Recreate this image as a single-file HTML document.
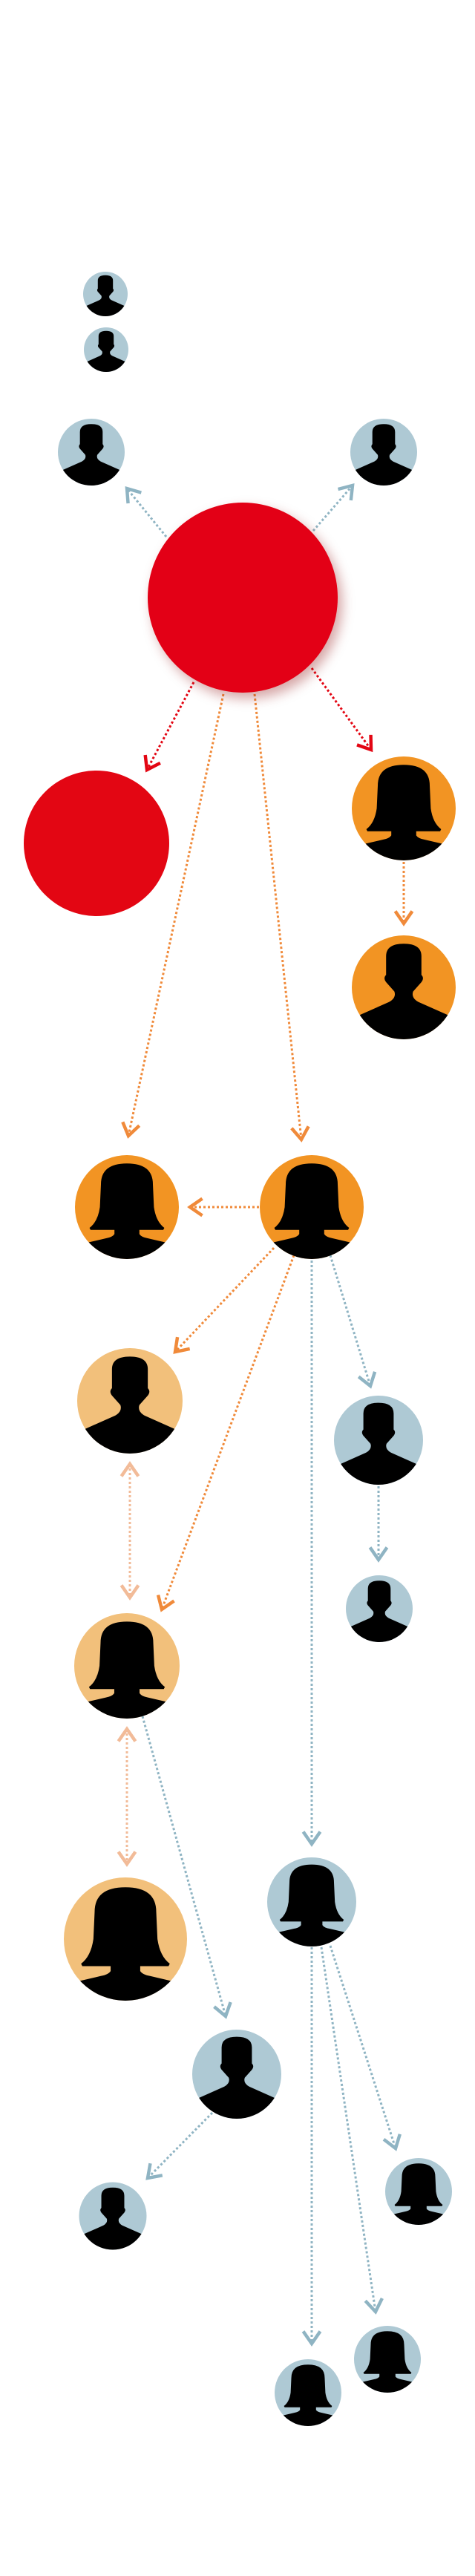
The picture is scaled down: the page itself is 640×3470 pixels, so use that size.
<!DOCTYPE html>
<html><head><meta charset="utf-8"><style>html,body{margin:0;padding:0;background:#fff}svg{display:block}</style></head>
<body>
<svg width="640" height="3470" viewBox="0 0 640 3470" xmlns="http://www.w3.org/2000/svg">
<defs>
<clipPath id="cc" clipPathUnits="userSpaceOnUse"><circle cx="0" cy="0" r="50"/></clipPath>
<filter id="sh" x="-30%" y="-30%" width="160%" height="160%"><feDropShadow dx="6" dy="8" stdDeviation="8" flood-color="#800" flood-opacity="0.35"/></filter>
<marker id="ab" markerUnits="userSpaceOnUse" markerWidth="28" markerHeight="28" refX="15" refY="11" orient="auto-start-reverse" viewBox="0 0 22 22"><path d="M2,2 L15,11 L2,20" fill="none" stroke="#8fb4c3" stroke-width="3.5"/></marker>
<marker id="ao" markerUnits="userSpaceOnUse" markerWidth="28" markerHeight="28" refX="15" refY="11" orient="auto-start-reverse" viewBox="0 0 22 22"><path d="M2,2 L15,11 L2,20" fill="none" stroke="#f08a3a" stroke-width="3.5"/></marker>
<marker id="al" markerUnits="userSpaceOnUse" markerWidth="28" markerHeight="28" refX="15" refY="11" orient="auto-start-reverse" viewBox="0 0 22 22"><path d="M2,2 L15,11 L2,20" fill="none" stroke="#f2bb98" stroke-width="3.5"/></marker>
<marker id="ar" markerUnits="userSpaceOnUse" markerWidth="28" markerHeight="28" refX="15" refY="11" orient="auto-start-reverse" viewBox="0 0 22 22"><path d="M2,2 L15,11 L2,20" fill="none" stroke="#e30613" stroke-width="3.5"/></marker>
<g id="M"><path clip-path="url(#cc)" fill="#000" d="M-17,-30 Q-17,-42 0,-42 Q17,-42 17,-30 L17,-12 Q20,-9 17,-5 L9,4 Q7,10 14,14 L50,30 L50,60 L-50,60 L-50,30 L-14,14 Q-7,10 -9,4 L-17,-5 Q-20,-9 -17,-12 Z"/></g>
<g id="F"><path clip-path="url(#cc)" fill="#000" d="M-25,-22 Q-25,-42 0,-42 Q25,-42 25,-22 L26,0 Q28,14 36,20 L35,22 L12,22 L12,26 Q14,29 20,30 L50,37 L50,60 L-50,60 L-50,37 L-20,30 Q-14,29 -12,26 L-12,22 L-35,22 L-36,20 Q-28,14 -26,0 Z"/></g>
</defs>
<g fill="none" stroke-width="3" stroke-dasharray="3 3">
<line x1="224" y1="723" x2="171" y2="658" stroke="#8fb4c3" marker-end="url(#ab)"/>
<line x1="422" y1="715" x2="475" y2="654" stroke="#8fb4c3" marker-end="url(#ab)"/>
<line x1="261" y1="919" x2="198" y2="1037" stroke="#e30613" marker-end="url(#ar)"/>
<line x1="420" y1="900" x2="500" y2="1010" stroke="#e30613" marker-end="url(#ar)"/>
<line x1="301" y1="935" x2="173" y2="1530" stroke="#f08a3a" marker-end="url(#ao)"/>
<line x1="343" y1="935" x2="406" y2="1535" stroke="#f08a3a" marker-end="url(#ao)"/>
<line x1="544" y1="1161" x2="544" y2="1244" stroke="#f08a3a" marker-end="url(#ao)"/>
<line x1="349" y1="1626" x2="256" y2="1626" stroke="#f08a3a" marker-end="url(#ao)"/>
<line x1="369" y1="1681" x2="236" y2="1821" stroke="#f08a3a" marker-end="url(#ao)"/>
<line x1="396" y1="1691" x2="218" y2="2168" stroke="#f08a3a" marker-end="url(#ao)"/>
<line x1="420" y1="1698" x2="420" y2="2484" stroke="#8fb4c3" marker-end="url(#ab)"/>
<line x1="445" y1="1691" x2="499" y2="1867" stroke="#8fb4c3" marker-end="url(#ab)"/>
<line x1="510" y1="2002" x2="510" y2="2101" stroke="#8fb4c3" marker-end="url(#ab)"/>
<line x1="175" y1="1972" x2="175" y2="2152" stroke="#f2bb98" marker-start="url(#al)" marker-end="url(#al)"/>
<line x1="171" y1="2329" x2="171" y2="2511" stroke="#f2bb98" marker-start="url(#al)" marker-end="url(#al)"/>
<line x1="192" y1="2312" x2="304" y2="2716" stroke="#8fb4c3" marker-end="url(#ab)"/>
<line x1="286" y1="2846" x2="199" y2="2934" stroke="#8fb4c3" marker-end="url(#ab)"/>
<line x1="445" y1="2621" x2="533" y2="2894" stroke="#8fb4c3" marker-end="url(#ab)"/>
<line x1="433" y1="2623" x2="506" y2="3114" stroke="#8fb4c3" marker-end="url(#ab)"/>
<line x1="420" y1="2623" x2="420" y2="3157" stroke="#8fb4c3" marker-end="url(#ab)"/>
</g>
<circle cx="327" cy="805" r="128" fill="#e30613" filter="url(#sh)"/>
<circle cx="130" cy="1136" r="98" fill="#e30613"/>
<g transform="translate(142,396) scale(0.6)"><circle r="50" fill="#aec9d4"/><use href="#M"/></g>
<g transform="translate(143,471) scale(0.6)"><circle r="50" fill="#aec9d4"/><use href="#M"/></g>
<g transform="translate(123,609) scale(0.9)"><circle r="50" fill="#aec9d4"/><use href="#M"/></g>
<g transform="translate(517,609) scale(0.9)"><circle r="50" fill="#aec9d4"/><use href="#M"/></g>
<g transform="translate(544,1089) scale(1.4)"><circle r="50" fill="#f29423"/><use href="#F"/></g>
<g transform="translate(544,1330) scale(1.4)"><circle r="50" fill="#f29423"/><use href="#M"/></g>
<g transform="translate(171,1626) scale(1.4)"><circle r="50" fill="#f29423"/><use href="#F"/></g>
<g transform="translate(420,1626) scale(1.4)"><circle r="50" fill="#f29423"/><use href="#F"/></g>
<g transform="translate(175,1887) scale(1.42)"><circle r="50" fill="#f2c07b"/><use href="#M"/></g>
<g transform="translate(510,1940) scale(1.2)"><circle r="50" fill="#aec9d4"/><use href="#M"/></g>
<g transform="translate(511,2167) scale(0.9)"><circle r="50" fill="#aec9d4"/><use href="#M"/></g>
<g transform="translate(171,2244) scale(1.42)"><circle r="50" fill="#f2c07b"/><use href="#F"/></g>
<g transform="translate(169,2612) scale(1.66)"><circle r="50" fill="#f2c07b"/><use href="#F"/></g>
<g transform="translate(420,2562) scale(1.2)"><circle r="50" fill="#aec9d4"/><use href="#F"/></g>
<g transform="translate(319,2794) scale(1.2)"><circle r="50" fill="#aec9d4"/><use href="#M"/></g>
<g transform="translate(152,2985) scale(0.91)"><circle r="50" fill="#aec9d4"/><use href="#M"/></g>
<g transform="translate(564,2952) scale(0.9)"><circle r="50" fill="#aec9d4"/><use href="#F"/></g>
<g transform="translate(522,3178) scale(0.9)"><circle r="50" fill="#aec9d4"/><use href="#F"/></g>
<g transform="translate(415,3223) scale(0.9)"><circle r="50" fill="#aec9d4"/><use href="#F"/></g>
</svg>
</body></html>
